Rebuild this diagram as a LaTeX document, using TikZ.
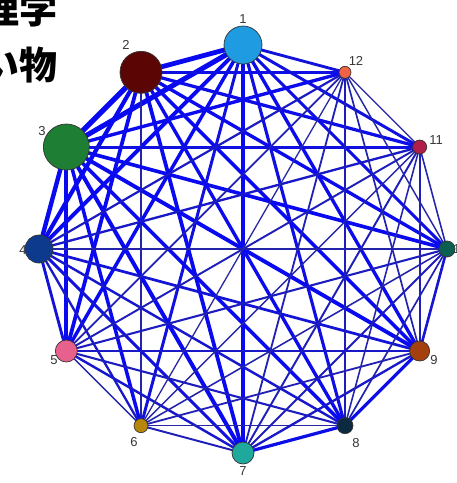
\documentclass[tikz,border=0pt]{standalone}
\usepackage{fontspec}
\setmainfont{Liberation Sans}
\newfontfamily\jpfont{Noto Sans CJK JP}

\definecolor{edgebright}{RGB}{10,10,240}
\definecolor{edgedark}{RGB}{40,40,160}
\definecolor{labelgray}{RGB}{55,55,55}
\definecolor{c1}{RGB}{30,155,225}
\definecolor{c2}{RGB}{92,5,5}
\definecolor{c3}{RGB}{30,126,52}
\definecolor{c4}{RGB}{13,58,140}
\definecolor{c5}{RGB}{232,96,140}
\definecolor{c6}{RGB}{184,134,11}
\definecolor{c7}{RGB}{31,168,156}
\definecolor{c8}{RGB}{11,42,64}
\definecolor{c9}{RGB}{163,64,14}
\definecolor{c10}{RGB}{11,95,80}
\definecolor{c11}{RGB}{176,30,74}
\definecolor{c12}{RGB}{240,100,69}

\pgfdeclarelayer{edges}
\pgfsetlayers{edges,main}

% hand-set widths for individual edges
\newcommand\setew[3]{\expandafter\def\csname ew#1-#2\endcsname{#3}}
\setew{1}{7}{4.5}
\setew{4}{10}{1.5}
\setew{2}{6}{1.5}
\setew{6}{8}{1.3}
\setew{5}{6}{1.5}
\setew{8}{9}{3.2}
\setew{7}{8}{3.2}
\setew{8}{12}{2}
\setew{3}{11}{3}
\setew{9}{10}{2.6}

\tikzset{
  vert/.style={circle, draw=black!80, line width=0.7pt, inner sep=0pt, minimum size=#1},
  vlabel/.style={font=\fontsize{13}{13}\selectfont, text=labelgray, inner sep=0pt},
  jptext/.style={font=\jpfont\bfseries\fontsize{38}{38}\selectfont, inner sep=0pt, anchor=base east}
}

\begin{document}
\begin{tikzpicture}[x=1pt, y=-1pt]
  \useasboundingbox (0,0) rectangle (457,483);

  % heading, cut at the left edge
  \node[jptext] (t1) at (58,23) {理学};
  \node[jptext] (t2) at (58,79) {い物};

  % vertices on a circle around (243,249), radius 204
  \def\diams{{38,42,46,28,22,14,22,16,20,16,14,12}}
  \foreach \k in {1,...,12} {
    \pgfmathsetmacro\ang{90+30*(\k-1)}
    \pgfmathsetmacro\d{\diams[\k-1]}
    \node[vert=\d pt, fill=c\k] (n\k) at ({243+204*cos(\ang)},{249-204*sin(\ang)}) {};
  }

  % vertex labels
  \node[vlabel] (l1) at (243,19) {1};
  \node[vlabel] (l2) at (126,45) {2};
  \node[vlabel] (l3) at (42,131) {3};
  \node[vlabel] (l4) at (23,250) {4};
  \node[vlabel] (l5) at (54,360) {5};
  \node[vlabel] (l6) at (134,442) {6};
  \node[vlabel] (l7) at (243,471) {7};
  \node[vlabel] (l8) at (356,443) {8};
  \node[vlabel] (l9) at (434,360) {9};
  \node[vlabel, anchor=west] (l10) at (453,249) {10};
  \node[vlabel] (l11) at (436,140) {11};
  \node[vlabel] (l12) at (356,61) {12};

  % every pair of vertices is joined; width grows with vertex size
  \def\rads{{19,21,23,14,11,7,11,8,10,8,7,6}}
  \begin{pgfonlayer}{edges}
    \fill[white] (0,0) rectangle (457,483);
    \foreach \i in {1,...,11} {
      \pgfmathtruncatemacro\ni{\i+1}
      \foreach \j in {\ni,...,12} {
        \ifcsname ew\i-\j\endcsname
          \edef\w{\csname ew\i-\j\endcsname}
        \else
          \pgfmathsetmacro\w{max(1.2,0.13*(\rads[\i-1]+\rads[\j-1])-0.4)}
        \fi
        \pgfmathtruncatemacro\p{min(100,max(0,(\w-1.2)*45))}
        \draw[line width=\w pt, draw=edgebright!\p!edgedark] (n\i.center) -- (n\j.center);
      }
    }
  \end{pgfonlayer}
\end{tikzpicture}
\end{document}
